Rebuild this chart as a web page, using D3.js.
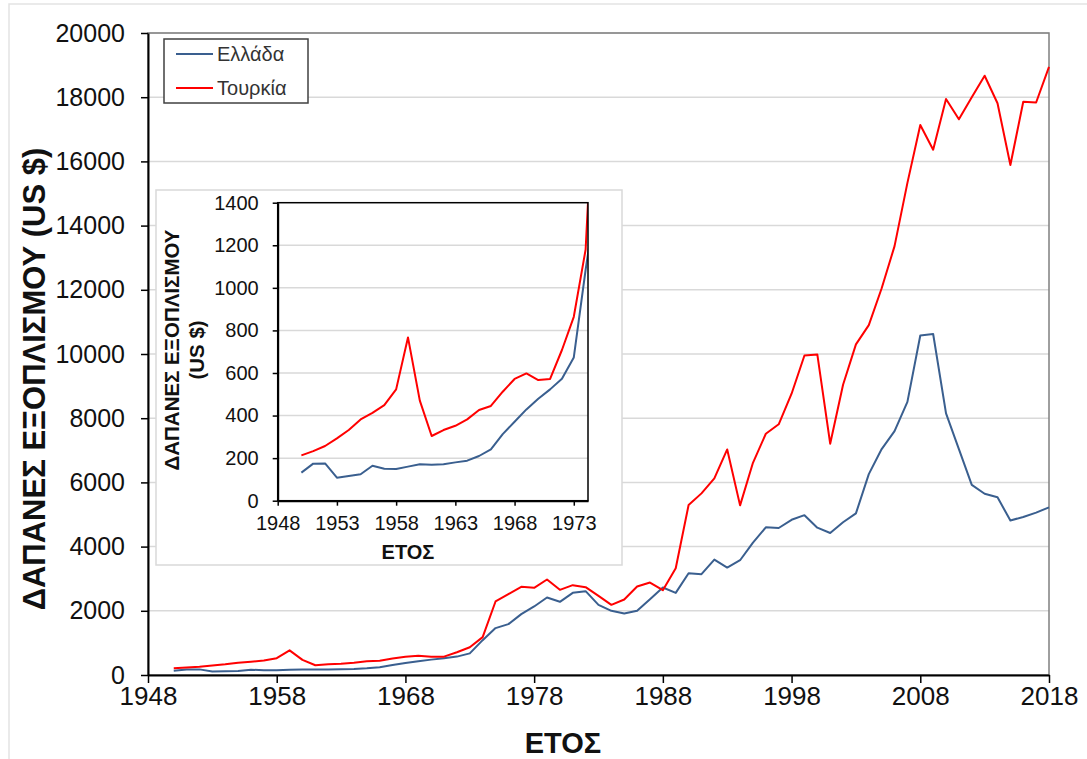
<!DOCTYPE html>
<html>
<head>
<meta charset="utf-8">
<script src="https://cdn.jsdelivr.net/npm/d3@7"></script>
<style>
  html, body { margin: 0; padding: 0; background: #fff; }
  svg { display: block; font-family: "Liberation Sans", Arial, sans-serif; }
</style>
</head>
<body>
<svg id="chart" width="1087" height="759"></svg>
<script>
const years = d3.range(1950, 2019);
const greece = [132,174,175,108,116,124,164,150,149,160,171,169,171,180,188,210,241,313,371,429,479,523,573,673,1085,
  1461,1585,1896,2135,2414,2280,2559,2611,2186,2000,1917,2000,2363,2725,2559,3171,3140,3596,3347,3575,4124,4600,4580,
  4835,4979,4590,4423,4757,5035,6259,7038,7595,8508,10578,10622,8151,7038,5925,5647,5536,4812,4924,5057,5224];
const turkey = [213,233,257,293,332,382,413,449,523,767,470,304,332,352,382,426,445,512,572,598,567,572,708,864,1180,
  2290,2518,2746,2715,2974,2653,2798,2736,2466,2186,2352,2756,2881,2642,3326,5295,5658,6124,7026,5285,6611,7515,7810,
  8763,9954,9988,7205,9042,10300,10900,12047,13360,15330,17133,16365,17946,17311,18001,18669,17812,15886,17857,17834,18947];
const seriesNames = ["Ελλάδα", "Τουρκία"];
const mainYTicks = [0,2000,4000,6000,8000,10000,12000,14000,16000,18000,20000];
const mainXTicks = [1948,1958,1968,1978,1988,1998,2008,2018];
const insetYTicks = [0,200,400,600,800,1000,1200,1400];
const insetXTicks = [1948,1953,1958,1963,1968,1973];
const insetLastYear = 1975;
const yTitle = "ΔΑΠΑΝΕΣ ΕΞΟΠΛΙΣΜΟΥ (US $)";
const xTitle = "ΕΤΟΣ";

const colors = ["#3a5f8f", "#ff0000"];
const grid = "#d9d9d9";
const svg = d3.select("#chart");

// outer chart border (left and top visible)
svg.append("rect").attr("x", 9).attr("y", 4).attr("width", 1200).attr("height", 900)
  .attr("fill", "none").attr("stroke", "#e3e3e3").attr("stroke-width", 1.5);

const data = years.map((y, i) => ({ year: y, g: greece[i], t: turkey[i] }));

// ---------- main chart ----------
const M = { l: 148, r: 1049, t: 33, b: 675 };
const x = d3.scaleLinear().domain([1948, 2018]).range([M.l, M.r]);
const y = d3.scaleLinear().domain([0, 20000]).range([M.b, M.t]);

svg.append("g").selectAll("line").data(mainYTicks.slice(1)).join("line")
  .attr("x1", M.l).attr("x2", M.r).attr("y1", d => y(d)).attr("y2", d => y(d))
  .attr("stroke", grid).attr("stroke-width", 1.5);

svg.append("rect").attr("x", M.l).attr("y", M.t).attr("width", M.r - M.l).attr("height", M.b - M.t)
  .attr("fill", "none").attr("stroke", "#7f7f7f").attr("stroke-width", 1.5);

const lineMain = key => d3.line().x(d => x(d.year)).y(d => y(d[key]));
svg.append("path").datum(data).attr("d", lineMain("g")).attr("fill", "none")
  .attr("stroke", colors[0]).attr("stroke-width", 2).attr("stroke-linejoin", "round");
svg.append("path").datum(data).attr("d", lineMain("t")).attr("fill", "none")
  .attr("stroke", colors[1]).attr("stroke-width", 2).attr("stroke-linejoin", "round");

const yAxis = svg.append("g").attr("transform", `translate(${M.l},0)`)
  .call(d3.axisLeft(y).tickValues(mainYTicks).tickFormat(d3.format("d")).tickSize(7).tickSizeOuter(0).tickPadding(16));
yAxis.select(".domain").attr("stroke", "#000").attr("stroke-width", 2);
yAxis.selectAll(".tick line").attr("stroke", "#000").attr("stroke-width", 1.5);
yAxis.selectAll(".tick text").attr("font-size", 25).attr("fill", "#111")
  .attr("font-family", "Liberation Sans, Arial, sans-serif");

const xAxis = svg.append("g").attr("transform", `translate(0,${M.b})`)
  .call(d3.axisBottom(x).tickValues(mainXTicks).tickFormat(d3.format("d")).tickSize(8).tickSizeOuter(0).tickPadding(4));
xAxis.select(".domain").attr("stroke", "#000").attr("stroke-width", 2);
xAxis.selectAll(".tick line").attr("stroke", "#000").attr("stroke-width", 1.5);
xAxis.selectAll(".tick text").attr("font-size", 26).attr("fill", "#111")
  .attr("font-family", "Liberation Sans, Arial, sans-serif");

svg.append("text").attr("x", 563).attr("y", 753).attr("text-anchor", "middle")
  .attr("font-size", 29).attr("font-weight", "bold").attr("fill", "#111").text(xTitle);

svg.append("text").attr("transform", "translate(45,379) rotate(-90)").attr("text-anchor", "middle")
  .attr("font-size", 31).attr("font-weight", "bold").attr("fill", "#111").text(yTitle);

// legend
const lg = svg.append("g");
lg.append("rect").attr("x", 164).attr("y", 39).attr("width", 144).attr("height", 64)
  .attr("fill", "#fff").attr("stroke", "#404040").attr("stroke-width", 1.5);
seriesNames.forEach((n, i) => {
  const yy = 54 + i * 34;
  lg.append("line").attr("x1", 176).attr("x2", 213).attr("y1", yy).attr("y2", yy)
    .attr("stroke", colors[i]).attr("stroke-width", 2);
  lg.append("text").attr("x", 217).attr("y", yy + 7).attr("font-size", 20).attr("fill", "#333").text(n);
});

// ---------- inset ----------
svg.append("rect").attr("x", 156).attr("y", 190).attr("width", 466).attr("height", 375)
  .attr("fill", "#fff").attr("stroke", "#d9d9d9").attr("stroke-width", 1.5);

const I = { l: 277.7, r: 588, t: 202.7, b: 500.7 };
const xi = d3.scaleLinear().domain([1948, 1974.2]).range([I.l, I.r]);
const yi = d3.scaleLinear().domain([0, 1400]).range([I.b, I.t]);

svg.append("g").selectAll("line").data(insetYTicks.slice(1, -1)).join("line")
  .attr("x1", I.l).attr("x2", I.r).attr("y1", d => yi(d)).attr("y2", d => yi(d))
  .attr("stroke", grid).attr("stroke-width", 1.5);

svg.append("clipPath").attr("id", "insetClip").append("rect")
  .attr("x", I.l).attr("y", I.t).attr("width", I.r - I.l).attr("height", I.b - I.t);

const insetData = data.filter(d => d.year <= insetLastYear);
const lineInset = key => d3.line().x(d => xi(d.year)).y(d => yi(d[key]));
const ig = svg.append("g").attr("clip-path", "url(#insetClip)");
ig.append("path").datum(insetData).attr("d", lineInset("g")).attr("fill", "none")
  .attr("stroke", colors[0]).attr("stroke-width", 2).attr("stroke-linejoin", "round");
ig.append("path").datum(insetData).attr("d", lineInset("t")).attr("fill", "none")
  .attr("stroke", colors[1]).attr("stroke-width", 2).attr("stroke-linejoin", "round");

svg.append("rect").attr("x", I.l).attr("y", I.t).attr("width", I.r - I.l).attr("height", I.b - I.t)
  .attr("fill", "none").attr("stroke", "#000").attr("stroke-width", 1.5);

const yiAxis = svg.append("g").attr("transform", `translate(${I.l},0)`)
  .call(d3.axisLeft(yi).tickValues(insetYTicks).tickFormat(d3.format("d")).tickSize(5).tickSizeOuter(0).tickPadding(14));
yiAxis.select(".domain").attr("stroke", "#000").attr("stroke-width", 2);
yiAxis.selectAll(".tick line").attr("stroke", "#000").attr("stroke-width", 1.5);
yiAxis.selectAll(".tick text").attr("font-size", 20).attr("fill", "#111")
  .attr("font-family", "Liberation Sans, Arial, sans-serif");

const xiAxis = svg.append("g").attr("transform", `translate(0,${I.b})`)
  .call(d3.axisBottom(xi).tickValues(insetXTicks).tickFormat(d3.format("d")).tickSize(5).tickSizeOuter(0).tickPadding(10));
xiAxis.select(".domain").attr("stroke", "#000").attr("stroke-width", 2);
xiAxis.selectAll(".tick line").attr("stroke", "#000").attr("stroke-width", 1.5);
xiAxis.selectAll(".tick text").attr("font-size", 20).attr("fill", "#111")
  .attr("font-family", "Liberation Sans, Arial, sans-serif");

svg.append("text").attr("x", 408).attr("y", 559).attr("text-anchor", "middle")
  .attr("font-size", 20).attr("font-weight", "bold").attr("fill", "#111").text(xTitle);

const yTitleParts = [yTitle.replace(" (US $)", ""), "(US $)"];
svg.append("text").attr("transform", "translate(178.5,350) rotate(-90)").attr("text-anchor", "middle")
  .attr("font-size", 20.5).attr("font-weight", "bold").attr("fill", "#111").text(yTitleParts[0]);
svg.append("text").attr("transform", "translate(204,350) rotate(-90)").attr("text-anchor", "middle")
  .attr("font-size", 20.5).attr("font-weight", "bold").attr("fill", "#111").text(yTitleParts[1]);
</script>
</body>
</html>
